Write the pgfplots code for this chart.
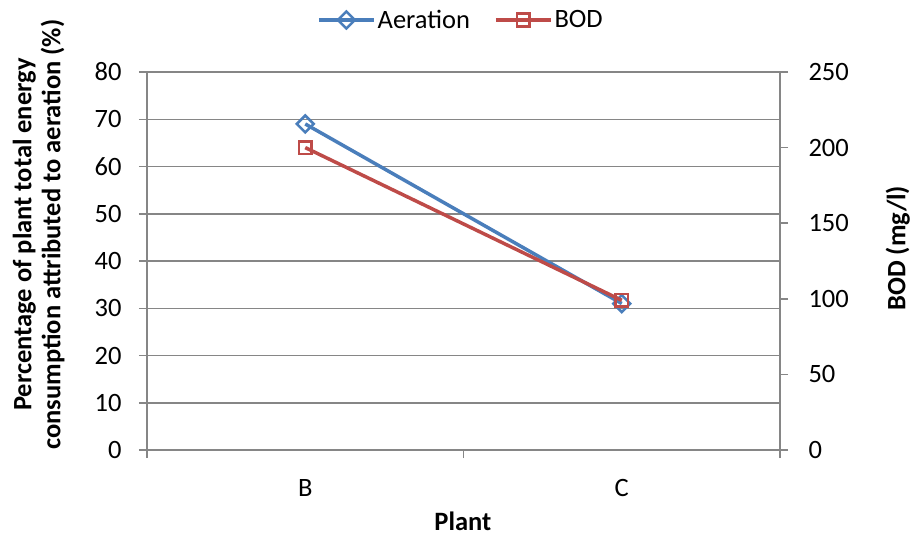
\documentclass[border=0pt]{standalone}
\usepackage{fontspec}
\setmainfont{Carlito}
\usepackage{pgfplots}
\pgfplotsset{compat=1.18}
\definecolor{aerblue}{HTML}{4A7EBB}
\definecolor{bodred}{HTML}{BE4B48}
\definecolor{axgray}{HTML}{868686}
\newcommand{\chartfont}{\fontsize{26.5}{29}\selectfont}
\begin{document}
\begin{tikzpicture}
\useasboundingbox (-147pt,-86pt) rectangle (765pt,450pt);
\pgfplotsset{
  base/.style={
    scale only axis, width=633pt, height=378pt,
    at={(0pt,0pt)}, anchor=south west,
    xmin=-0.5, xmax=1.5,
    font=\chartfont,
    /pgf/number format/assume math mode=true,
    tick align=outside, major tick length=8pt,
    every tick/.style={draw=axgray, line width=1.5pt},
    axis line style={draw=axgray, line width=1.5pt},
    clip=false,
  },
}
% left axis: share of plant energy used by aeration
\begin{axis}[base,
  axis x line*=bottom, axis y line*=left,
  ymin=0, ymax=80, ytick={0,10,...,80},
  ymajorgrids, grid style={draw=axgray, line width=1.5pt},
  yticklabel style={xshift=-14pt},
  xtick={-0.5,0.5,1.5}, xticklabels={},
  extra x ticks={0,1}, extra x tick labels={B,C},
  extra x tick style={major tick length=0pt, xticklabel style={yshift=-26pt}},
  xlabel={Plant},
  xlabel style={at={(axis description cs:0.499,-0.188)}, anchor=center, font=\chartfont\bfseries},
  ylabel={Percentage of plant total energy\\consumption attributed to aeration (\%)},
  ylabel style={at={(axis description cs:-0.171,0.570)}, anchor=center, align=center, font=\chartfont\bfseries},
  legend style={at={(axis description cs:0.496,1.1376)}, anchor=center, draw=none, fill=none,
    legend columns=-1, inner sep=0pt, nodes={inner sep=2pt},
    /tikz/every even column/.append style={column sep=22pt}},
  legend image code/.code={\draw[mark repeat=2, mark phase=2, #1] plot coordinates {(0pt,0pt) (27.5pt,0pt) (55pt,0pt)};},
]
\addplot[aerblue, line width=3.5pt, mark=square, mark size=6pt,
  mark options={rotate=45, fill=white, line width=2.5pt, solid}]
  coordinates {(0,69) (1,31)};
\addlegendentry{Aeration}
\addlegendimage{bodred, line width=3.5pt, mark=square, mark size=6.3pt,
  mark options={fill=white, line width=2.5pt, solid}}
\addlegendentry{BOD}
\end{axis}
% right axis: BOD concentration
\begin{axis}[base,
  axis x line=none, axis y line*=right,
  ymin=0, ymax=250, ytick={0,50,...,250},
  yticklabel style={xshift=17pt},
  ylabel={BOD (mg/l)},
  ylabel style={at={(axis description cs:1.186,0.534)}, anchor=center, font=\chartfont\bfseries},
]
\addplot[bodred, line width=3.5pt, mark=square, mark size=6.3pt,
  mark options={fill=white, line width=2.5pt, solid}]
  coordinates {(0,200) (1,99)};
\end{axis}
\end{tikzpicture}
\end{document}
